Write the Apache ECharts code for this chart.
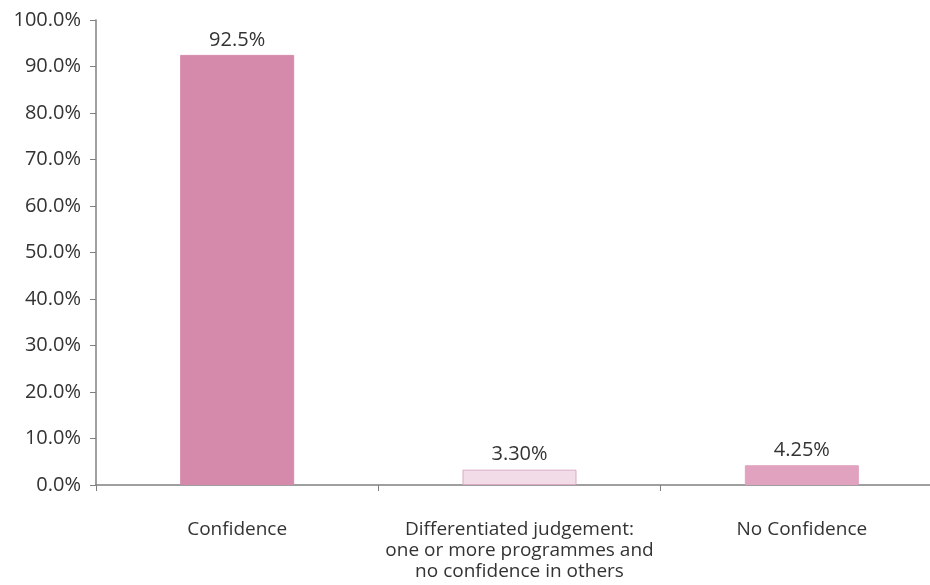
<!DOCTYPE html>
<html>
<head>
<meta charset="utf-8">
<script src="https://cdn.jsdelivr.net/npm/echarts@6/dist/echarts.min.js"></script>
<style>
  html, body { margin: 0; padding: 0; background: #fff; }
  #chartContainer { width: 930px; height: 585px; }
</style>
</head>
<body>
<div id="chartContainer"></div>
<script>
var categories = ['Confidence', 'Differentiated judgement:\none or more programmes and\nno confidence in others', 'No Confidence'];
var values = [92.5, 3.3, 4.25];
var valueLabels = ['92.5%', '3.30%', '4.25%'];
var barColors = ['#d68aab', '#f1dce7', '#e0a2be'];
var borderColors = ['#d68aab', '#d9aac2', '#e0a2be'];

var font = '"Open Sans", sans-serif';

var myChart = echarts.init(document.getElementById('chartContainer'));
var option = {
    animation: false,
    backgroundColor: '#ffffff',
    grid: { left: 96, top: 20, width: 847, height: 465, containLabel: false, outerBoundsMode: 'none' },
    xAxis: {
        type: 'category',
        data: categories,
        axisLine: { lineStyle: { color: '#808080', width: 1.5 } },
        axisTick: { show: true, length: 6, alignWithLabel: false, lineStyle: { color: '#808080' } },
        axisLabel: { color: '#333', fontSize: 19, fontFamily: font, margin: 34, lineHeight: 21, interval: 0 }
    },
    yAxis: {
        type: 'value',
        min: 0, max: 100, interval: 10,
        splitLine: { show: false },
        axisLine: { show: true, lineStyle: { color: '#808080', width: 1.5 } },
        axisTick: { show: true, length: 6, lineStyle: { color: '#808080' } },
        axisLabel: { color: '#333', fontSize: 20, fontFamily: font, margin: 15,
            formatter: function (v) { return v.toFixed(1) + '%'; } }
    },
    series: [{
        type: 'bar',
        barWidth: 114,
        data: values.map(function (v, i) {
            return {
                value: v,
                itemStyle: { color: barColors[i], borderColor: borderColors[i], borderWidth: 1 },
                label: { formatter: valueLabels[i] }
            };
        }),
        label: { show: true, position: 'top', distance: 5, color: '#333', fontSize: 20, fontFamily: font }
    }]
};
myChart.setOption(option);
</script>
</body>
</html>
